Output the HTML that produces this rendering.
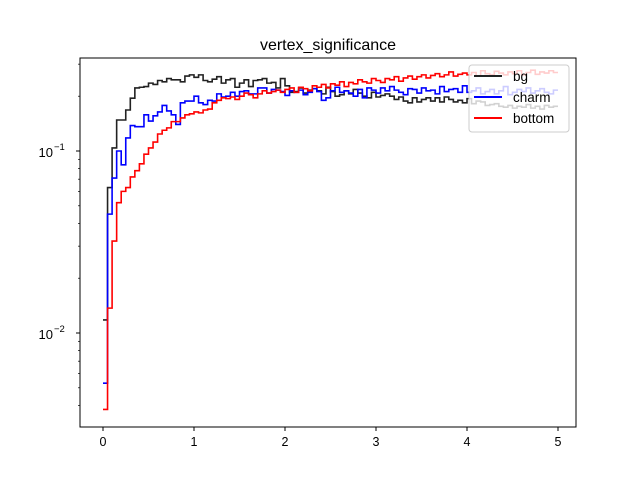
<!DOCTYPE html>
<html><head><meta charset="utf-8"><style>body{margin:0;background:#fff}svg{display:block;font-family:"Liberation Sans","DejaVu Sans",sans-serif}</style></head>
<body>
<svg id="chart" width="640" height="480">
<rect width="640" height="480" fill="#fff"/>
<text x="328" y="50" font-size="16" text-anchor="middle">vertex_significance</text>
<g id="plot"></g>
<rect x="80" y="58" width="496" height="369" fill="none" stroke="#000" stroke-width="1"/>
<g id="ticks"></g>
<g>
<rect x="469" y="65" width="100" height="67" rx="3" fill="#fff" fill-opacity="0.8" stroke="#ccc"/>
<line x1="474" y1="76" x2="502" y2="76" stroke="#222" stroke-width="2"/>
<text x="513" y="81" font-size="13.5">bg</text>
<line x1="474" y1="97" x2="502" y2="97" stroke="#0000ff" stroke-width="2"/>
<text x="513" y="102" font-size="13.5">charm</text>
<line x1="474" y1="118" x2="502" y2="118" stroke="#ff0000" stroke-width="2"/>
<text x="513" y="123" font-size="13.5">bottom</text>
</g>
</svg>
<script>
const binEdgesStart = 0, binEdgesEnd = 5, nBins = 100;
const xTicks = [0,1,2,3,4,5];
const yMajor = [-2,-1];
const bg = [0.0118,0.063,0.104,0.148,0.148,0.168,0.195,0.222,0.224,0.226,
0.236,0.232,0.244,0.240,0.250,0.246,0.246,0.240,0.258,0.262,
0.254,0.262,0.244,0.240,0.248,0.256,0.236,0.246,0.250,0.224,
0.236,0.246,0.226,0.244,0.246,0.250,0.236,0.238,0.222,0.250,
0.228,0.210,0.212,0.222,0.208,0.216,0.220,0.214,0.206,0.224,
0.212,0.200,0.204,0.214,0.206,0.218,0.208,0.200,0.196,0.210,
0.198,0.202,0.206,0.200,0.192,0.198,0.188,0.184,0.196,0.186,
0.192,0.196,0.188,0.196,0.186,0.198,0.192,0.186,0.190,0.184,
0.194,0.182,0.188,0.186,0.178,0.180,0.182,0.176,0.174,0.178,
0.172,0.176,0.174,0.180,0.172,0.176,0.170,0.178,0.174,0.176];
const charm = [0.0053,0.045,0.071,0.10,0.084,0.118,0.138,0.136,0.136,0.158,
0.146,0.156,0.164,0.178,0.166,0.158,0.140,0.184,0.188,0.188,
0.200,0.184,0.180,0.190,0.188,0.206,0.198,0.200,0.210,0.200,
0.212,0.214,0.206,0.206,0.222,0.222,0.208,0.218,0.216,0.212,
0.202,0.214,0.210,0.216,0.204,0.210,0.220,0.212,0.190,0.196,
0.214,0.224,0.210,0.214,0.208,0.200,0.218,0.196,0.222,0.216,
0.208,0.222,0.214,0.226,0.216,0.210,0.204,0.220,0.218,0.208,
0.222,0.214,0.216,0.206,0.226,0.212,0.218,0.220,0.210,0.228,
0.210,0.214,0.222,0.206,0.212,0.218,0.206,0.214,0.226,0.204,
0.210,0.218,0.212,0.222,0.208,0.214,0.220,0.210,0.206,0.216];
const bottom = [0.0038,0.0137,0.032,0.052,0.060,0.063,0.072,0.078,0.085,0.096,
0.104,0.112,0.124,0.130,0.134,0.145,0.145,0.152,0.158,0.160,
0.164,0.162,0.168,0.170,0.184,0.190,0.196,0.194,0.198,0.192,
0.200,0.208,0.204,0.196,0.206,0.214,0.208,0.212,0.216,0.210,
0.218,0.222,0.210,0.224,0.220,0.214,0.228,0.224,0.232,0.222,
0.234,0.230,0.240,0.226,0.238,0.234,0.246,0.240,0.236,0.250,
0.244,0.238,0.250,0.246,0.256,0.242,0.252,0.258,0.248,0.256,
0.262,0.252,0.260,0.266,0.256,0.262,0.272,0.258,0.264,0.268,
0.262,0.270,0.258,0.276,0.266,0.262,0.274,0.268,0.262,0.272,
0.266,0.276,0.262,0.270,0.278,0.264,0.272,0.268,0.276,0.270];

const NS='http://www.w3.org/2000/svg';
const X = v => 103 + 91*v;
const Y = v => 151 - 182*(Math.log10(v)+1);
const plot = document.getElementById('plot');
const ticks = document.getElementById('ticks');
function mk(tag, attrs, parent){const e=document.createElementNS(NS,tag);for(const k in attrs)e.setAttribute(k,attrs[k]);parent.appendChild(e);return e;}
const w = (binEdgesEnd-binEdgesStart)/nBins;
function stepPath(vals){
  let d='';
  vals.forEach((v,i)=>{const x0=X(binEdgesStart+i*w),x1=X(binEdgesStart+(i+1)*w),y=Y(v);
    d += (i===0?'M':'L')+x0.toFixed(2)+','+y.toFixed(2)+' L'+x1.toFixed(2)+','+y.toFixed(2)+' ';});
  return d;
}
[[bg,'#222','series-bg'],[charm,'#0000ff','series-charm'],[bottom,'#ff0000','series-bottom']].forEach(([vals,c,n])=>{
  const p = mk('path',{d:stepPath(vals),fill:'none',stroke:c,'stroke-width':1.6},plot);
  
  
});
xTicks.forEach(t=>{
  const x=X(t);
  mk('line',{x1:x,y1:427,x2:x,y2:431,stroke:'#000'},ticks);
  const tx=mk('text',{x:x,y:446,'font-size':12.5,'text-anchor':'middle'},ticks);
  tx.textContent=String(t);
  
  
});
yMajor.forEach(e=>{
  const y=Y(Math.pow(10,e));
  mk('line',{x1:76,y1:y,x2:80,y2:y,stroke:'#000'},ticks);
  const tx=mk('text',{x:53,y:y+6,'font-size':13,'text-anchor':'end'},ticks);
  tx.textContent='10';
  
  
  const sp=mk('text',{x:54,y:y-1,'font-size':9.5},ticks);
  sp.textContent='\u2212'+Math.abs(e);
});
for(let e=-3;e<=-1;e++){for(let m=2;m<=9;m++){const v=m*Math.pow(10,e);const y=Y(v);if(y>=58&&y<=427)mk('line',{x1:78,y1:y,x2:80,y2:y,stroke:'#000','stroke-width':0.7},ticks);}}
</script>
</body></html>
